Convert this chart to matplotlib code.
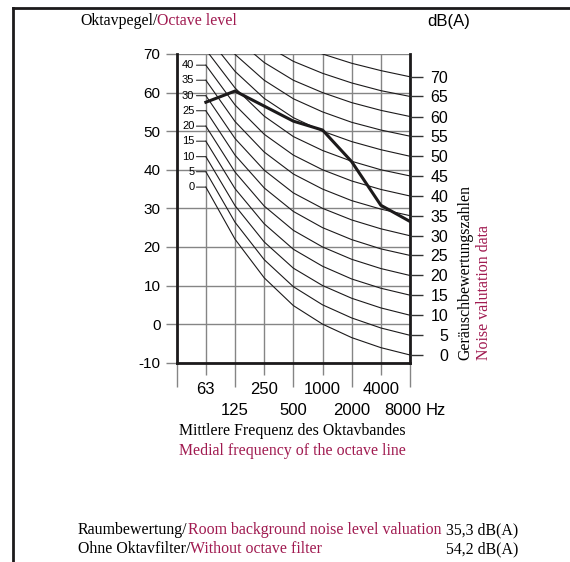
import matplotlib
matplotlib.use("Agg")
import matplotlib.pyplot as plt
from matplotlib.lines import Line2D
from matplotlib.text import Annotation

# octave bands, drawn at positions 1..8 (0 = left edge of the grid)
bands = ["63", "125", "250", "500", "1000", "2000", "4000", "8000"]
band_x = [1, 2, 3, 4, 5, 6, 7, 8]

# noise rating curves (dB per octave band)
nr_numbers = [0, 5, 10, 15, 20, 25, 30, 35, 40, 45, 50, 55, 60, 65, 70]
nr_curves = [
    [35.5, 22.0, 12.0, 4.8, 0, -3.5, -6.1, -8.0],
    [39.5, 26.4, 16.7, 9.7, 5, 1.6, -1.0, -2.9],
    [43.4, 30.7, 21.3, 14.5, 10, 6.7, 4.2, 2.3],
    [47.4, 35.1, 26.0, 19.4, 15, 11.7, 9.3, 7.5],
    [51.3, 39.4, 30.6, 24.3, 20, 16.8, 14.4, 12.6],
    [55.3, 43.8, 35.3, 29.2, 25, 21.9, 19.5, 17.8],
    [59.2, 48.1, 39.9, 34.0, 30, 27.0, 24.7, 22.9],
    [63.2, 52.5, 44.6, 38.9, 35, 32.0, 29.8, 28.1],
    [67.1, 56.8, 49.2, 43.8, 40, 37.1, 34.9, 33.2],
    [71.1, 61.2, 53.9, 48.6, 45, 42.2, 40.0, 38.4],
    [75.0, 65.5, 58.5, 53.5, 50, 47.3, 45.2, 43.5],
    [79.0, 69.9, 63.2, 58.4, 55, 52.3, 50.3, 48.7],
    [82.9, 74.2, 67.8, 63.2, 60, 57.4, 55.4, 53.8],
    [86.9, 78.6, 72.5, 68.1, 65, 62.5, 60.5, 59.0],
    [90.8, 82.9, 77.1, 73.0, 70, 67.6, 65.7, 64.1],
]

# measured octave levels
octave_level = [57.5, 60.4, 56.5, 52.6, 50.3, 42.1, 30.8, 26.6]

y_ticks = [-10, 0, 10, 20, 30, 40, 50, 60, 70]

RED = "#a01a50"
GRID = "#858585"
INK = "#1c1a1b"
serif = ["Liberation Serif", "DejaVu Serif"]
plt.rcParams["font.family"] = ["Liberation Sans Narrow", "Liberation Sans", "DejaVu Sans"]

W, H = 570, 562
fig = plt.figure(figsize=(W / 100, H / 100), dpi=100)
ax = fig.add_axes([176.7 / W, 1 - 362.7 / H, 233.3 / W, 308.7 / H])

for curve in nr_curves:
    ax.plot(band_x, curve, color=INK, lw=0.8)
ax.plot(band_x, octave_level, color=INK, lw=2.2)

ax.set_xlim(0, 8)
ax.set_ylim(-10, 70)
ax.set_yticks(y_ticks, [str(v) for v in y_ticks])
ax.set_xticks([0, 2, 4, 6, 8], ["", bands[1], bands[3], bands[5], ""])
ax.set_xticks([1, 3, 5, 7], [bands[0], bands[2], bands[4], bands[6]], minor=True)
ax.set_axisbelow(True)
ax.grid(True, which="both", color=GRID, lw=1.0)
ax.spines["top"].set_visible(False)
for s in ["left", "right", "bottom"]:
    ax.spines[s].set_linewidth(2.0)
    ax.spines[s].set_color(INK)
ax.tick_params(axis="x", which="major", length=17.3, width=1, color=GRID, pad=11.5, labelsize=12)
ax.tick_params(axis="x", which="minor", length=8.6, width=1, color=GRID, pad=5.3, labelsize=12)
ax.tick_params(axis="y", length=8, width=1, color=GRID, pad=3.6, labelsize=11)

# 8000 label and unit, second row
ax.annotate("8000", xy=(8, 0), xycoords=("data", "axes fraction"), xytext=(-7.5, -40.3),
            textcoords="offset pixels", ha="center", va="top", fontsize=12)
ax.annotate("Hz", xy=(8, 0), xycoords=("data", "axes fraction"), xytext=(25.3, -40.3),
            textcoords="offset pixels", ha="center", va="top", fontsize=12)

# inner NR scale at 63 Hz
for n, curve in zip(nr_numbers, nr_curves):
    if n <= 40:
        ax.annotate(str(n), xy=(band_x[0], curve[0]), xytext=(-11.5, 0),
                    textcoords="offset pixels", ha="right", va="center", fontsize=8,
                    arrowprops=dict(arrowstyle="-", lw=0.8, color="#333333",
                                    patchA=None, relpos=(1, 0.5), shrinkA=1.5, shrinkB=0))

# NR numbers on the right, at the 8 kHz end of each curve
ax2 = ax.twinx()
ax2.set_ylim(-10, 70)
ax2.set_yticks([c[-1] for c in nr_curves], [str(n) for n in nr_numbers])
for s in ax2.spines.values():
    s.set_visible(False)
ax2.tick_params(axis="y", length=9.4, width=1, color="#333333", pad=18, labelsize=11.5)
plt.setp(ax2.get_yticklabels(), ha="right")


def two_tone(x, y, black, red, size=11.4):
    t = fig.text(x / W, 1 - y / H, black, family=serif, fontsize=size, color="black", va="baseline")
    fig.add_artist(Annotation(red, xy=(1, 0), xycoords=t, ha="left", va="bottom",
                              family=serif, fontsize=size, color=RED))


two_tone(80, 25, "Oktavpegel/", "Octave level")
fig.text(449 / W, 1 - 26 / H, "dB(A)", ha="center", va="baseline", fontsize=12)

fig.text(465 / W, 1 - 360 / H, "Geräuschbewertungszahlen", rotation=90, ha="center", va="bottom",
         family=serif, fontsize=11.4, color="black")
fig.text(484 / W, 1 - 360 / H, "Noise valutation data", rotation=90, ha="center", va="bottom",
         family=serif, fontsize=11.4, color=RED)

fig.text(179 / W, 1 - 435 / H, "Mittlere Frequenz des Oktavbandes", family=serif,
         fontsize=11.4, va="baseline")
fig.text(179 / W, 1 - 455 / H, "Medial frequency of the octave line", family=serif,
         fontsize=11.4, va="baseline", color=RED)

two_tone(78, 534, "Raumbewertung/", "Room background noise level valuation")
two_tone(78, 553, "Ohne Oktavfilter/", "Without octave filter")
fig.text(518 / W, 1 - 534 / H, "35,3 dB(A)", family=serif, fontsize=11.4, ha="right", va="baseline")
fig.text(518 / W, 1 - 553 / H, "54,2 dB(A)", family=serif, fontsize=11.4, ha="right", va="baseline")

# page frame
fig.add_artist(Line2D([13 / W, 13 / W], [0, 1 - 7.8 / H], color=INK, lw=2.0, solid_capstyle="projecting"))
fig.add_artist(Line2D([13 / W, 1], [1 - 7.8 / H, 1 - 7.8 / H], color=INK, lw=2.0, solid_capstyle="projecting"))

fig.savefig("out.png", dpi=100)
